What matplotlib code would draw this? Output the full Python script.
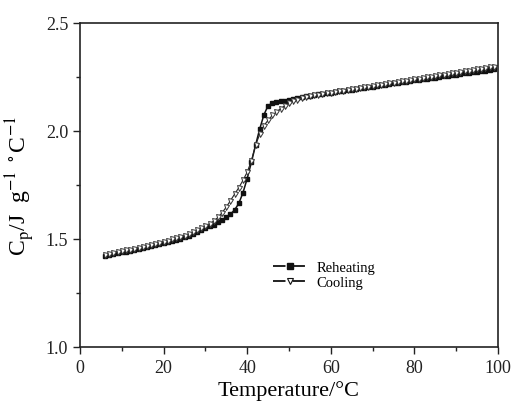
import matplotlib
matplotlib.use("Agg")
import matplotlib.pyplot as plt
import numpy as np
from matplotlib.ticker import MultipleLocator
from matplotlib.lines import Line2D

plt.rcParams['font.family'] = ['Liberation Serif', 'DejaVu Serif']
plt.rcParams['mathtext.fontset'] = 'stix'
plt.rcParams['lines.scale_dashes'] = False

# temperatures, degC (one reading per degree)
temperature = list(range(6, 100))

# heat capacity, J g^-1 C^-1
reheating = [
    1.423, 1.427, 1.430, 1.434,
    1.438, 1.442, 1.446, 1.450, 1.454, 1.458, 1.462, 1.467, 1.471, 1.476,
    1.480, 1.485, 1.490, 1.495, 1.500, 1.507, 1.514, 1.522, 1.531, 1.540,
    1.549, 1.558, 1.567, 1.577, 1.588, 1.600, 1.615, 1.635, 1.665, 1.715,
    1.780, 1.855, 1.935, 2.010, 2.075, 2.118, 2.128, 2.133, 2.137, 2.141,
    2.145, 2.149, 2.153, 2.157, 2.160, 2.163, 2.166, 2.169, 2.172, 2.175,
    2.178, 2.181, 2.183, 2.186, 2.189, 2.192, 2.195, 2.197, 2.200, 2.203,
    2.206, 2.209, 2.211, 2.214, 2.217, 2.220, 2.222, 2.225, 2.228, 2.231,
    2.234, 2.236, 2.239, 2.242, 2.245, 2.247, 2.250, 2.253, 2.256, 2.258,
    2.261, 2.264, 2.267, 2.269, 2.272, 2.275, 2.278, 2.280, 2.283, 2.286,
]
cooling = [
    1.427, 1.431, 1.435, 1.439,
    1.443, 1.447, 1.451, 1.455, 1.459, 1.464, 1.468, 1.473, 1.478, 1.483,
    1.488, 1.493, 1.498, 1.504, 1.510, 1.516, 1.523, 1.531, 1.540, 1.550,
    1.560, 1.571, 1.583, 1.600, 1.622, 1.648, 1.678, 1.708, 1.738, 1.772,
    1.810, 1.862, 1.935, 1.985, 2.025, 2.050, 2.072, 2.088, 2.104, 2.117,
    2.128, 2.137, 2.145, 2.152, 2.157, 2.162, 2.165, 2.168, 2.171, 2.174,
    2.177, 2.180, 2.183, 2.186, 2.190, 2.193, 2.196, 2.199, 2.202, 2.205,
    2.208, 2.211, 2.214, 2.217, 2.221, 2.224, 2.227, 2.230, 2.233, 2.236,
    2.239, 2.242, 2.245, 2.248, 2.252, 2.255, 2.258, 2.261, 2.264, 2.267,
    2.270, 2.273, 2.276, 2.279, 2.283, 2.286, 2.289, 2.292, 2.295, 2.298,
]

fig = plt.figure(figsize=(5.17, 4.02), dpi=100)
ax = fig.add_axes([80 / 517, 1 - 348 / 402, 418 / 517, 324 / 402])

ax.plot(temperature, reheating, '-', color='#111111', lw=1.1,
        marker='s', ms=2.8, mfc='#111111', mec='#111111')
ax.plot(temperature, cooling, '-', color='#222222', lw=0.8,
        marker='v', ms=3.6, mfc='white', mec='#333333', mew=0.7)

ax.set_xlim(0, 100)
ax.set_ylim(1.0, 2.5)
ax.xaxis.set_major_locator(MultipleLocator(20))
ax.xaxis.set_minor_locator(MultipleLocator(10))
ax.yaxis.set_major_locator(MultipleLocator(0.5))
ax.yaxis.set_minor_locator(MultipleLocator(0.25))
ax.yaxis.set_major_formatter(plt.FuncFormatter(lambda v, p: f"{v:.1f}"))
ax.tick_params(which='both', direction='out', top=False, right=False,
               labelsize=13, width=1.0, colors='#222222')
ax.tick_params(which='major', length=5)
ax.tick_params(which='minor', length=3)
for s in ax.spines.values():
    s.set_linewidth(1.2)
    s.set_color('#222222')

ax.set_xlabel('Temperature/°C', fontsize=16, labelpad=3)
ax.set_ylabel(r'C$_\mathrm{p}$/J  g$^{-1}$ $^\circ$C$^{-1}$', fontsize=17, labelpad=6)

# legend handles: short line, gap, marker, gap, short line
dash = (0, (9, 5))
handles = [
    Line2D([], [], color='#111111', lw=1.3, ls=dash,
           marker='s', ms=4, mfc='#111111', mec='#111111'),
    Line2D([], [], color='#111111', lw=1.3, ls=dash,
           marker='v', ms=5, mfc='white', mec='#111111', mew=0.8),
]
ax.legend(handles, ['Reheating', 'Cooling'], loc='center left',
          bbox_to_anchor=(0.43, 0.222), frameon=False,
          fontsize=10.5, handlelength=2.3, handletextpad=0.7,
          labelspacing=0.15)

fig.savefig('out.png', dpi=100)
